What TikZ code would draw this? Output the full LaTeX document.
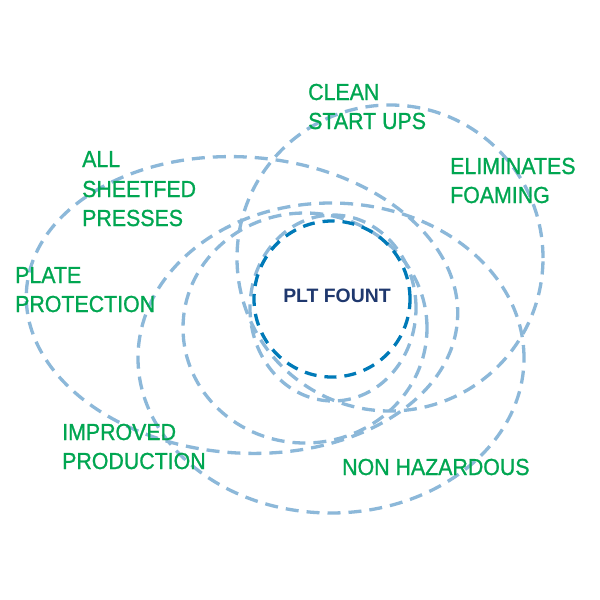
\documentclass[tikz,border=0pt]{standalone}
\usepackage{fontspec}
\setmainfont{Liberation Sans}
\newfontfamily\labfont[FakeBold=1,FakeStretch=0.92]{Liberation Sans}
\definecolor{ring}{RGB}{140,184,217}
\definecolor{core}{RGB}{0,122,184}
\definecolor{lbl}{RGB}{0,166,81}
\definecolor{navy}{RGB}{31,56,110}
\tikzset{
  orbit/.style={draw=ring, line width=3.3pt, dash pattern=on 13pt off 8pt},
  coreline/.style={draw=core, line width=3.3pt, dash pattern=on 12pt off 8pt},
  lab/.style={text=lbl, font=\labfont\fontsize{23.2}{27}\selectfont, anchor=base west, inner sep=0pt},
  corelab/.style={text=navy, font=\fontsize{19.4}{23}\selectfont\bfseries, anchor=base, inner sep=0pt}
}
\begin{document}
\begin{tikzpicture}[x=1pt,y=-1pt]
\useasboundingbox[fill=white] (0,0) rectangle (600,600);
% outer dashed orbits
\draw[orbit] (390,258) circle [radius=153pt];
\draw[orbit, rotate around={-4:(242,305)}] (242,305) ellipse [x radius=216pt, y radius=148pt];
\draw[orbit] (331,358) ellipse [x radius=193pt, y radius=155pt];
\draw[orbit] (305,328) ellipse [x radius=122pt, y radius=115pt];
\draw[orbit] (333,308) ellipse [x radius=83pt, y radius=93pt];
% core circle
\draw[coreline] (332,299) circle [radius=78pt];
\node[corelab] (core) at (337,302) {PLT FOUNT};
% labels
\node[lab] (clean1) at (308,100) {CLEAN};
\node[lab] (clean2) at (308,129) {START UPS};
\node[lab] (all1) at (82,167) {ALL};
\node[lab] (all2) at (82,197) {SHEETFED};
\node[lab] (all3) at (82,226) {PRESSES};
\node[lab] (elim1) at (450,174) {ELIMINATES};
\node[lab] (elim2) at (450,203) {FOAMING};
\node[lab] (plate1) at (15,283) {PLATE};
\node[lab] (plate2) at (15,312) {PROTECTION};
\node[lab] (impr1) at (62,440) {IMPROVED};
\node[lab] (impr2) at (62,469) {PRODUCTION};
\node[lab] (nonh) at (342,475) {NON HAZARDOUS};
\end{tikzpicture}
\end{document}
